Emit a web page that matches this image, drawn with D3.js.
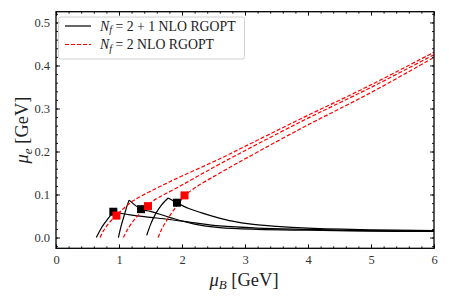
<!DOCTYPE html>
<html><head><meta charset="utf-8">
<script src="https://cdn.jsdelivr.net/npm/d3@7"></script>
<style>body{margin:0;background:#fff}svg{display:block}</style>
</head><body><svg id="c" width="449" height="299"></svg>
<script>
// ---- data ----
const xTicks = [0,1,2,3,4,5,6];
const yTicks = [0.0,0.1,0.2,0.3,0.4,0.5];
const xTickLabels = ["0","1","2","3","4","5","6"];
const yTickLabels = ["0.0","0.1","0.2","0.3","0.4","0.5"];

const blackRiseA = [[0.64,0.0],[0.70,0.017],[0.76,0.031],[0.82,0.043],[0.88,0.054],[0.92,0.060]];
const blackTailA = [[0.92,0.060],[1.0,0.057],[1.2,0.052],[1.5,0.047],[1.8,0.042],[2.2,0.034],[2.6,0.027],[3.2,0.022],[4.0,0.019],[5.0,0.016],[6.0,0.015]];
const blackRiseB = [[0.99,0.0],[1.03,0.025],[1.08,0.050],[1.12,0.070],[1.16,0.087]];
const blackTailB = [[1.16,0.087],[1.35,0.066],[1.5,0.061],[1.8,0.047],[2.2,0.031],[2.6,0.023],[3.2,0.019],[4.0,0.017],[5.0,0.015],[6.0,0.014]];
const blackRiseC = [[1.44,0.005],[1.50,0.030],[1.58,0.055],[1.67,0.075],[1.78,0.092]];
const blackTailC = [[1.78,0.092],[1.92,0.081],[2.1,0.068],[2.3,0.058],[2.55,0.047],[2.8,0.038],[3.1,0.031],[3.5,0.026],[4.0,0.022],[5.0,0.018],[6.0,0.016]];

const red1 = [[0.70,0.0],[0.75,0.015],[0.82,0.030],[0.90,0.043],[0.96,0.052],[1.1,0.071],[1.23,0.086],[1.6,0.115],[2.0,0.143],[2.6,0.183],[3.0,0.212],[3.87,0.275],[5.0,0.355],[6.0,0.431]];
const red2 = [[1.07,0.0],[1.12,0.015],[1.2,0.033],[1.3,0.051],[1.4,0.066],[1.46,0.074],[1.54,0.085],[2.0,0.122],[2.6,0.171],[3.87,0.268],[5.0,0.349],[6.0,0.425]];
const red3 = [[1.62,0.0],[1.67,0.017],[1.75,0.038],[1.85,0.060],[1.95,0.080],[2.04,0.097],[2.2,0.115],[2.6,0.150],[3.87,0.252],[5.0,0.337],[6.0,0.419]];

const blackSquares = [[0.91,0.060],[1.35,0.066],[1.92,0.081]];
const redSquares = [[0.96,0.051],[1.46,0.073],[2.04,0.098]];

// ---- layout ----
const FONT = "Liberation Serif";
const svg = d3.select("#c");
const L=56, R=434, T=11.7, B=248.3;
const x = d3.scaleLinear().domain([0,6]).range([L,R]);
const y = d3.scaleLinear().domain([-0.025,0.525]).range([B,T]);

const lineM = d3.line().x(d=>x(d[0])).y(d=>y(d[1])).curve(d3.curveMonotoneX);
const lineC = d3.line().x(d=>x(d[0])).y(d=>y(d[1])).curve(d3.curveCatmullRom.alpha(0.5));
const g = svg.append("g");

[blackRiseA,blackRiseB,blackRiseC].forEach(s=>{
  g.append("path").attr("d",lineM(s)).attr("fill","none").attr("stroke","#000").attr("stroke-width",1.2);
});
[blackTailA,blackTailB,blackTailC].forEach(s=>{
  g.append("path").attr("d",lineC(s)).attr("fill","none").attr("stroke","#000").attr("stroke-width",1.2);
});
[red1,red2,red3].forEach(s=>{
  g.append("path").attr("d",lineC(s)).attr("fill","none").attr("stroke","#ff0000").attr("stroke-width",1.2).attr("stroke-dasharray","4,2");
});
const sq=8;
g.selectAll(".bs").data(blackSquares).enter().append("rect")
  .attr("x",d=>x(d[0])-sq/2).attr("y",d=>y(d[1])-sq/2).attr("width",sq).attr("height",sq).attr("fill","#000");
g.selectAll(".rs").data(redSquares).enter().append("rect")
  .attr("x",d=>x(d[0])-sq/2).attr("y",d=>y(d[1])-sq/2).attr("width",sq).attr("height",sq).attr("fill","#ff0000");

// ---- axes ----
const minorX = d3.range(0,6.001,0.2);
const minorY = d3.range(-0.02,0.5201,0.02);
function axis(gen, pos, ticks, size){
  return svg.append("g").attr("transform",pos).call(gen.tickValues(ticks).tickSize(size).tickFormat(""));
}
svg.append("g").attr("transform",`translate(0,${B})`)
  .call(d3.axisBottom(x).tickValues(xTicks).tickSizeInner(-4).tickSizeOuter(0).tickPadding(7).tickFormat((d,i)=>xTickLabels[i]));
axis(d3.axisBottom(x),`translate(0,${B})`,minorX,-2);
axis(d3.axisTop(x),`translate(0,${T})`,xTicks,-4);
axis(d3.axisTop(x),`translate(0,${T})`,minorX,-2);
svg.append("g").attr("transform",`translate(${L},0)`)
  .call(d3.axisLeft(y).tickValues(yTicks).tickSizeInner(-4).tickSizeOuter(0).tickPadding(6).tickFormat((d,i)=>yTickLabels[i]));
axis(d3.axisLeft(y),`translate(${L},0)`,minorY,-2);
axis(d3.axisRight(y),`translate(${R},0)`,yTicks,-4);
axis(d3.axisRight(y),`translate(${R},0)`,minorY,-2);
svg.selectAll(".domain").remove();
svg.selectAll(".tick line").attr("stroke","#000").attr("stroke-width",0.9);
svg.selectAll(".tick text").attr("font-family",FONT).attr("font-size",12.5).attr("fill","#333");
svg.append("rect").attr("x",L).attr("y",T).attr("width",R-L).attr("height",B-T)
  .attr("fill","none").attr("stroke","#000").attr("stroke-width",1.3);

// ---- labels ----
const xl = svg.append("text").attr("x",244).attr("y",285.5).attr("text-anchor","middle")
  .attr("font-family",FONT).attr("font-size",18.5).attr("fill","#222");
xl.append("tspan").text("μ").attr("font-style","italic");
xl.append("tspan").text("B").attr("font-style","italic").attr("font-size",13).attr("dy",3.5);
xl.append("tspan").text(" [GeV]").attr("dy",-3.5);
const yl = svg.append("text").attr("transform",`translate(28,${(T+B)/2}) rotate(-90)`).attr("text-anchor","middle")
  .attr("font-family",FONT).attr("font-size",18.5).attr("fill","#222");
yl.append("tspan").text("μ").attr("font-style","italic");
yl.append("tspan").text("e").attr("font-style","italic").attr("font-size",13).attr("dy",3.5);
yl.append("tspan").text(" [GeV]").attr("dy",-3.5);

// ---- legend ----
const lg = svg.append("g");
lg.append("rect").attr("x",58.5).attr("y",17).attr("width",186).attr("height",42).attr("rx",2.5)
  .attr("fill","#fff").attr("fill-opacity",0.8).attr("stroke","#d0d0d0").attr("stroke-width",1);
const entries = [{c:"#000",dash:null,rest:" = 2 + 1 NLO RGOPT"},{c:"#ff0000",dash:"4,2",rest:" = 2 NLO RGOPT"}];
entries.forEach((e,i)=>{
  const yy = 26+i*18.5;
  lg.append("line").attr("x1",65).attr("x2",91).attr("y1",yy).attr("y2",yy).attr("stroke",e.c).attr("stroke-width",1.2).attr("stroke-dasharray",e.dash);
  const t = lg.append("text").attr("x",100).attr("y",yy+4.5).attr("font-family",FONT).attr("font-size",13.8).attr("fill","#222");
  t.append("tspan").text("N").attr("font-style","italic");
  t.append("tspan").text("f").attr("font-style","italic").attr("font-size",10).attr("dy",2.5);
  t.append("tspan").text(e.rest).attr("dy",-2.5);
});
</script></body></html>
